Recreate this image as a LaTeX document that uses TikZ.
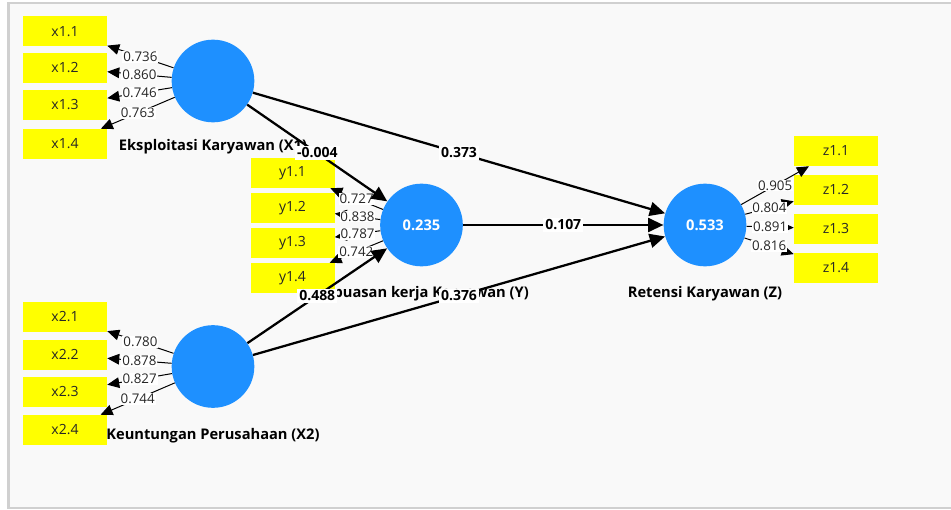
\documentclass[tikz,border=0pt]{standalone}
\usepackage{fontspec}
\setmainfont{Open Sans}
\usetikzlibrary{arrows.meta}
\definecolor{latentblue}{RGB}{30,144,255}
\definecolor{itemyellow}{RGB}{255,255,0}
\definecolor{panelgray}{RGB}{249,249,249}
\definecolor{framegray}{RGB}{208,208,208}

\tikzset{
  latent/.style={circle,fill=latentblue,minimum size=62pt,inner sep=0pt,
    text=white,font=\bfseries\fontsize{11}{12}\selectfont},
  item/.style={rectangle,fill=itemyellow,minimum width=63pt,minimum height=22.5pt,
    inner sep=0pt,text=black!85,font=\fontsize{10.5}{12}\selectfont},
  lvname/.style={anchor=base,font=\bfseries\fontsize{11}{12}\selectfont},
  load/.style={fill=white,inner sep=0.7pt,text=black!85,font=\fontsize{10}{11}\selectfont},
  coef/.style={fill=white,inner xsep=1.6pt,inner ysep=1.2pt,font=\bfseries\fontsize{10.5}{11}\selectfont},
  outer/.style={-{Triangle[length=9pt,width=8pt]},line width=0.75pt},
  inner/.style={-{Triangle[length=11.5pt,width=10.5pt]},line width=1.7pt}
}

\begin{document}
\begin{tikzpicture}[x=0.75pt,y=-0.75pt]
% canvas
\useasboundingbox (0,0) rectangle (951,510);
\fill[white] (0,0) rectangle (951,510);
\fill[panelgray] (8,3) rectangle (951,508);
\draw[framegray,line width=0.8pt] (951,3) -- (8,3) -- (8,508) -- (951,508);
\draw[framegray,line width=2pt] (8.5,3) -- (8.5,508);

% names of the constructs
\node[lvname] (X1name) at (213,151) {Eksploitasi Karyawan (X1)};
\node[lvname] (Yname) at (422,297) {Kepuasan kerja Karyawan (Y)};
\node[lvname] (Zname) at (705,297) {Retensi Karyawan (Z)};
\node[lvname] (X2name) at (213,439) {Keuntungan Perusahaan (X2)};

\begin{scope}[every node/.style={latent}]
    \node (X1) at (213,81) {};
    \node (X2) at (213,366.5) {};
    \node (Y) at (421.5,225) {0.235};
    \node (Z) at (705,225) {0.533};
\end{scope}

\begin{scope}[every node/.style={item}]
    \node (x11) at (65,31.5) {x1.1};
    \node (x12) at (65,68) {x1.2};
    \node (x13) at (65,105) {x1.3};
    \node (x14) at (65,144) {x1.4};
    \node (x21) at (65,317) {x2.1};
    \node (x22) at (65,355) {x2.2};
    \node (x23) at (65,392) {x2.3};
    \node (x24) at (65,430) {x2.4};
    \node (y11) at (292.5,173) {y1.1};
    \node (y12) at (292.5,208) {y1.2};
    \node (y13) at (292.5,243) {y1.3};
    \node (y14) at (292.5,278) {y1.4};
    \node (z11) at (836,151) {z1.1};
    \node (z12) at (836,190) {z1.2};
    \node (z13) at (836,229) {z1.3};
    \node (z14) at (836,268) {z1.4};
\end{scope}

% loadings
\draw[outer] (X1) -- node[load] {0.736} (x11);
\draw[outer] (X1) -- node[load] {0.860} (x12);
\draw[outer] (X1) -- node[load] {0.746} (x13);
\draw[outer] (X1) -- node[load] {0.763} (x14);
\draw[outer] (X2) -- node[load] {0.780} (x21);
\draw[outer] (X2) -- node[load] {0.878} (x22);
\draw[outer] (X2) -- node[load] {0.827} (x23);
\draw[outer] (X2) -- node[load] {0.744} (x24);
\draw[outer] (Y) -- node[load] {0.727} (y11);
\draw[outer] (Y) -- node[load] {0.838} (y12);
\draw[outer] (Y) -- node[load] {0.787} (y13);
\draw[outer] (Y) -- node[load] {0.742} (y14);
\draw[outer] (Z) -- node[load] {0.905} (z11);
\draw[outer] (Z) -- node[load] {0.804} (z12);
\draw[outer] (Z) -- node[load] {0.891} (z13);
\draw[outer] (Z) -- node[load] {0.816} (z14);

% paths
\draw[inner] (X1) -- node[coef] {-0.004} (Y);
\draw[inner] (X1) -- node[coef] {0.373} (Z);
\draw[inner] (Y) -- node[coef] {0.107} (Z);
\draw[inner] (X2) -- node[coef] {0.488} (Y);
\draw[inner] (X2) -- node[coef] {0.376} (Z);
\end{tikzpicture}
\end{document}
